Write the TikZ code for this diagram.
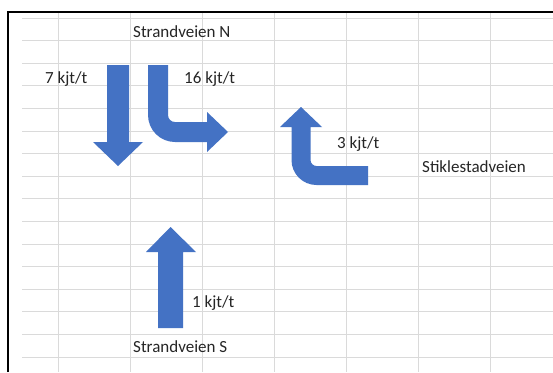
\documentclass[tikz,border=0pt]{standalone}
\usepackage{fontspec}
\setmainfont{Carlito}
\definecolor{arrowblue}{HTML}{4472C4}
\definecolor{gridgrey}{HTML}{DADADA}
\definecolor{txt}{HTML}{262626}
\begin{document}
\begin{tikzpicture}[x=1pt,y=-1pt,
  lbl/.style={anchor=base west,inner sep=0pt,text=txt,font=\fontsize{17}{20}\selectfont},
  gridline/.style={draw=gridgrey,line width=1pt},
  flow/.style={fill=arrowblue}]
\useasboundingbox (0,0) rectangle (553,372);
\fill[white] (0,0) rectangle (553,372);
% grid
\foreach \k in {0,...,15}{
  \draw[gridline] (22,{18+22.6*\k}) -- (553,{18+22.6*\k});
}
\foreach \k in {0,...,6}{
  \draw[gridline] ({58+72.15*\k},12) -- ({58+72.15*\k},372);
}
% border
\draw[black,line width=2pt] (8,372) -- (8,12) -- (553,12);
% arrow 1: straight down
\fill[flow] (107,65) -- (129,65) -- (129,142) -- (143,142) -- (118,166) -- (93,142) -- (107,142) -- cycle;
% arrow 2: down then right
\fill[flow] (148,65) -- (148,115) .. controls (148,129.9) and (160.1,142) .. (175,142)
  -- (207,142) -- (207,152) -- (228,132) -- (207,112) -- (207,122) -- (175,122)
  .. controls (171.1,122) and (168,118.9) .. (168,115) -- (168,65) -- cycle;
% arrow 3: from right then up
\fill[flow] (368,166) -- (368,185) -- (316.5,185) .. controls (302.7,185) and (291.5,173.8) .. (291.5,160)
  -- (291.5,127) -- (280,127) -- (301,107) -- (322,127) -- (310.5,127) -- (310.5,160)
  .. controls (310.5,163.3) and (313.2,166) .. (316.5,166) -- cycle;
% arrow 4: straight up
\fill[flow] (158,328) -- (183,328) -- (183,252) -- (196,252) -- (170.5,227) -- (146,252) -- (158,252) -- cycle;
% labels
\node[lbl] (nord) at (133,37) {Strandveien N};
\node[lbl] (q7) at (45,83) {7 kjt/t};
\node[lbl] (q16) at (184,83) {16 kjt/t};
\node[lbl] (q3) at (337,148) {3 kjt/t};
\node[lbl] (stik) at (422,172) {Stiklestadveien};
\node[lbl] (q1) at (192,307) {1 kjt/t};
\node[lbl] (sor) at (133,352) {Strandveien S};
\end{tikzpicture}
\end{document}
